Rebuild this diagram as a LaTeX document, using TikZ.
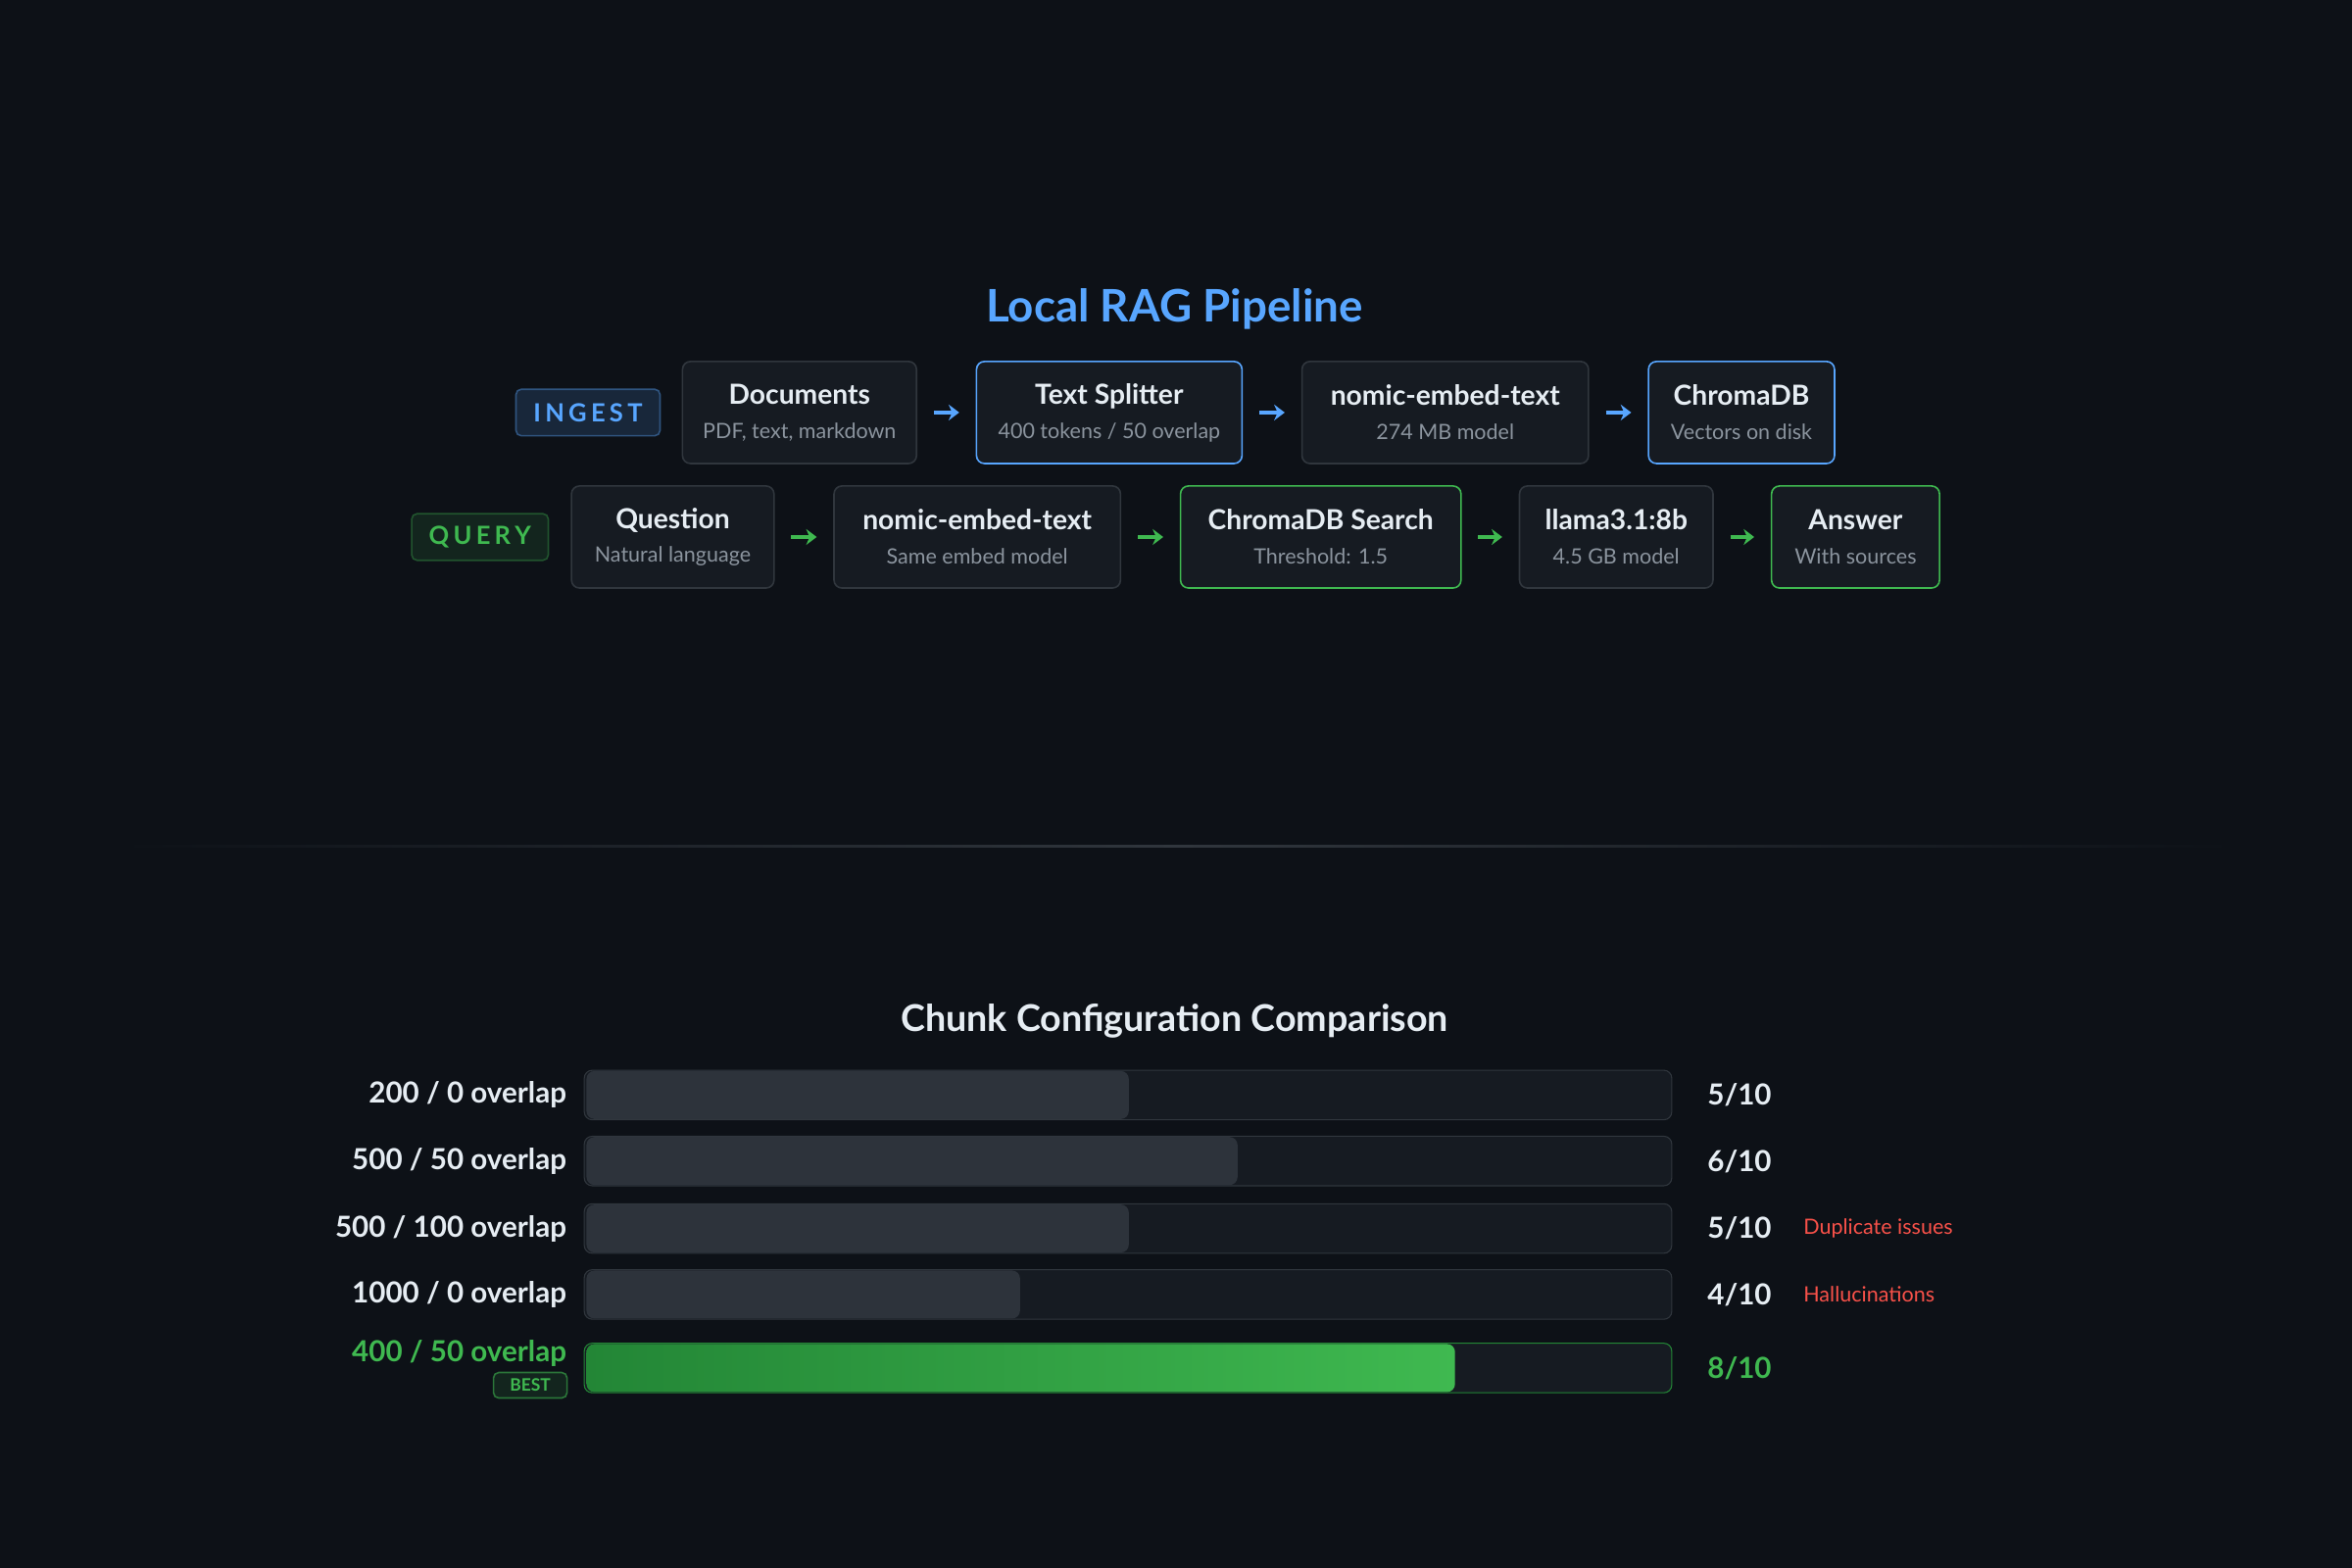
\documentclass[tikz,border=0pt]{standalone}
\usepackage{fontspec}
\setmainfont{Lato}
\usetikzlibrary{arrows.meta}
\definecolor{bg}{HTML}{0D1117}
\definecolor{card}{HTML}{161B22}
\definecolor{edge}{HTML}{30363D}
\definecolor{ink}{HTML}{E6EDF3}
\definecolor{muted}{HTML}{8B949E}
\definecolor{blu}{HTML}{58A6FF}
\definecolor{grn}{HTML}{3FB950}
\definecolor{dgrn}{HTML}{238636}
\definecolor{red}{HTML}{F85149}
\definecolor{track}{HTML}{161B22}
\definecolor{barfill}{HTML}{2D333B}
\begin{document}
\begin{tikzpicture}[x=0.02cm,y=-0.02cm,
  stagebox/.style={draw=edge,fill=card,rounded corners=3pt,line width=0.6pt,minimum height=68*0.02cm,inner sep=0pt,align=center,text=ink},
  tagbox/.style={rounded corners=2pt,line width=0.6pt,inner sep=0pt,font=\bfseries\fontsize{9.5}{10}\selectfont},
  arr/.style={-{Stealth[length=4pt,width=6pt]},line width=1.4pt,shorten <=11*0.02cm,shorten >=11*0.02cm},
  every node/.style={text=ink}]
\fill[bg] (0,0) rectangle (1568,1045);
\useasboundingbox (0,0) rectangle (1568,1045);

% Macro for a pipeline stage
\newcommand{\stagebox}[7]{
  \node[stagebox,draw=#7,minimum width={(#3-#2)*0.02cm}] (#1) at ({(#2+#3)/2},#4)
    {{\bfseries\fontsize{10.5}{12}\selectfont #5}\\[1pt]{\fontsize{8}{9}\selectfont\color{muted}#6}};
}

% Macro for a chart row
\newcommand{\chartrow}[6]{
  \node[draw=edge,fill=track,rounded corners=3pt,minimum width=725*0.02cm,minimum height=33*0.02cm,inner sep=0pt] (bar#1) at (752,#2) {};
  \fill[barfill,rounded corners=3pt] (391,#2-16) rectangle (390+72.5*#3,#2+16);
  \node[anchor=east,inner sep=0pt,font=\bfseries\fontsize{11}{12}\selectfont] (lab#1) at (378,#2) {#4};
  \node[anchor=west,inner sep=0pt,font=\bfseries\fontsize{11}{12}\selectfont] (score#1) at (1138,#2) {#3/10};
  \node[anchor=west,inner sep=0pt,text=red,font=\fontsize{8}{9}\selectfont] (note#1) at (1202,#2) {#6};
}

% Title
\node[text=blu,font=\bfseries\fontsize{17}{19}\selectfont] (title) at (783,206) {Local RAG Pipeline};

% Ingest row
\node[tagbox,draw=blu!45!bg,fill=blu!15!bg,text=blu,minimum width=96*0.02cm,minimum height=31*0.02cm] (ingest) at (392,275) {I\,N\,G\,E\,S\,T};
\stagebox{docs}{455}{611}{275}{Documents}{PDF, text, markdown}{edge}
\stagebox{split}{651}{828}{275}{Text Splitter}{400 tokens / 50 overlap}{blu}
\stagebox{embedA}{868}{1059}{275}{nomic-embed-text}{274 MB model}{edge}
\stagebox{store}{1099}{1223}{275}{ChromaDB}{Vectors on disk}{blu}
\foreach \a/\b in {docs/split,split/embedA,embedA/store}
  \draw[arr,blu] (\a) -- (\b);

% Query row
\node[tagbox,draw=grn!40!bg,fill=grn!12!bg,text=grn,minimum width=91*0.02cm,minimum height=31*0.02cm] (query) at (320,358) {Q\,U\,E\,R\,Y};
\stagebox{quest}{381}{516}{358}{Question}{Natural language}{edge}
\stagebox{embedB}{556}{747}{358}{nomic-embed-text}{Same embed model}{edge}
\stagebox{search}{787}{974}{358}{ChromaDB Search}{Threshold: 1.5}{grn}
\stagebox{llm}{1013}{1142}{358}{llama3.1:8b}{4.5 GB model}{edge}
\stagebox{answer}{1181}{1293}{358}{Answer}{With sources}{grn}
\foreach \a/\b in {quest/embedB,embedB/search,search/llm,llm/answer}
  \draw[arr,grn] (\a) -- (\b);

% Divider
\shade[left color=bg,right color=bg,middle color=edge] (80,563.5) rectangle (1490,565);

% Chart
\node[font=\bfseries\fontsize{14}{16}\selectfont] (chart) at (783,681) {Chunk Configuration Comparison};
\chartrow{a}{730}{5}{200 / 0 overlap}{}{}
\chartrow{b}{774}{6}{500 / 50 overlap}{}{}
\chartrow{c}{819}{5}{500 / 100 overlap}{}{Duplicate issues}
\chartrow{d}{863}{4}{1000 / 0 overlap}{}{Hallucinations}

% Best row
\node[draw=dgrn,fill=track,rounded corners=3pt,minimum width=725*0.02cm,minimum height=33*0.02cm,inner sep=0pt] (bare) at (752,912) {};
\shade[left color=dgrn,right color=grn,rounded corners=3pt] (391,896) rectangle (970,928);
\node[anchor=east,inner sep=0pt,text=grn,font=\bfseries\fontsize{11}{12}\selectfont] (labe) at (378,902) {400 / 50 overlap};
\node[tagbox,draw=grn!60!bg,fill=grn!12!bg,text=grn,font=\bfseries\fontsize{6.5}{7}\selectfont,minimum width=49*0.02cm,minimum height=17*0.02cm] (best) at (353.5,923.5) {BEST};
\node[anchor=west,inner sep=0pt,text=grn,font=\bfseries\fontsize{11}{12}\selectfont] (scoree) at (1138,912) {8/10};
\end{tikzpicture}
\end{document}
